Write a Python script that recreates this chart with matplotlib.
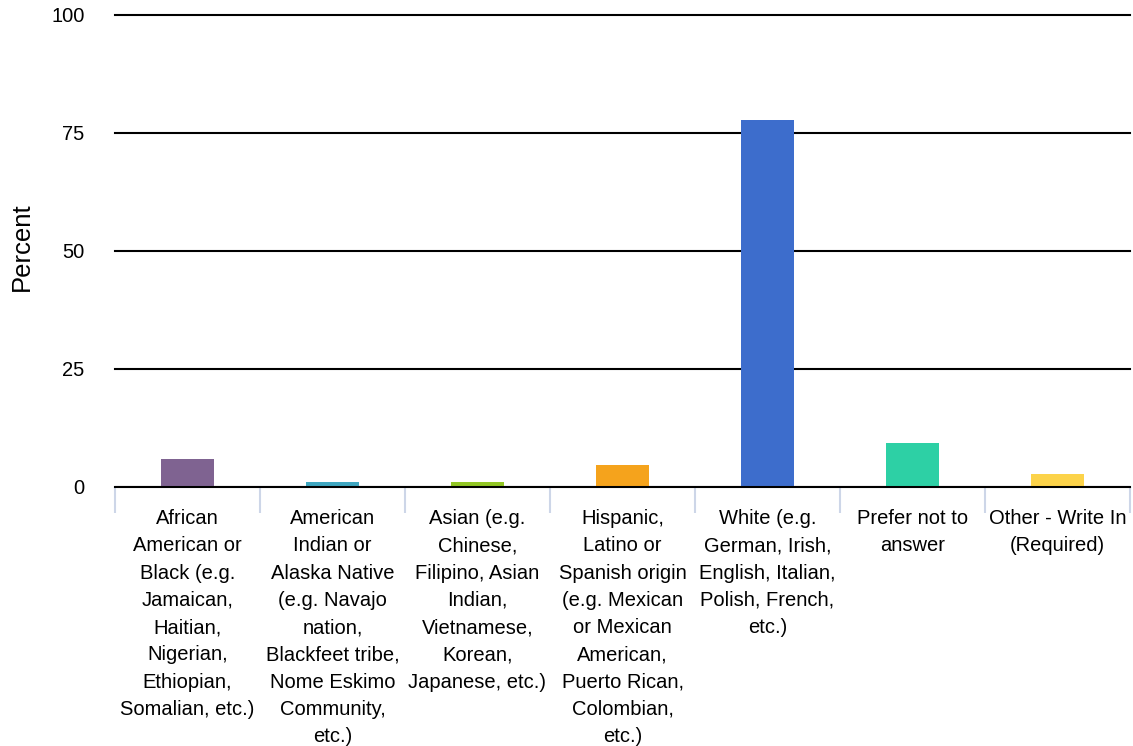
import matplotlib.pyplot as plt
import numpy as np

plt.rcParams['font.family'] = ['Liberation Sans', 'DejaVu Sans']

# categorias y valores (porcentaje)
categorias = [
    "African\nAmerican or\nBlack (e.g.\nJamaican,\nHaitian,\nNigerian,\nEthiopian,\nSomalian, etc.)",
    "American\nIndian or\nAlaska Native\n(e.g. Navajo\nnation,\nBlackfeet tribe,\nNome Eskimo\nCommunity,\netc.)",
    "Asian (e.g.\nChinese,\nFilipino, Asian\nIndian,\nVietnamese,\nKorean,\nJapanese, etc.)",
    "Hispanic,\nLatino or\nSpanish origin\n(e.g. Mexican\nor Mexican\nAmerican,\nPuerto Rican,\nColombian,\netc.)",
    "White (e.g.\nGerman, Irish,\nEnglish, Italian,\nPolish, French,\netc.)",
    "Prefer not to\nanswer",
    "Other - Write In\n(Required)",
]
porcentajes = [6.0, 1.1, 1.1, 4.7, 77.8, 9.3, 2.8]
colores = ['#7f6391', '#3ea6c0', '#92c624', '#f5a31c', '#3d6dcc', '#2dd0a5', '#fcd34a']
yticks = [0, 25, 50, 75, 100]

fig = plt.figure(figsize=(11.33, 7.46), dpi=100)
ax = fig.add_axes([115 / 1133, 259 / 746, 1015 / 1133, 472 / 746])

x = np.arange(len(categorias))
ax.bar(x, porcentajes, width=0.36, color=colores, zorder=3)

ax.set_xlim(-0.5, len(categorias) - 0.5)
ax.set_ylim(0, 100)
ax.set_yticks(yticks)
ax.yaxis.grid(True, color='black', linewidth=1.5, zorder=0)
for linea in ax.get_ygridlines():
    linea.set_clip_on(False)
ax.tick_params(axis='y', length=0, pad=22, labelsize=14.5)
ax.axhline(0, color='black', linewidth=2.2, zorder=4)

ax.set_xticks(x)
ax.set_xticklabels(categorias, fontsize=14.5, linespacing=1.55, va='top')
ax.set_xticks(np.arange(-0.5, len(categorias)), minor=True)
ax.tick_params(axis='x', which='major', length=0, pad=16)
ax.tick_params(axis='x', which='minor', length=19, width=1.5, color='#cdd6e8')

for s in ax.spines.values():
    s.set_visible(False)

ax.set_ylabel('Percent', fontsize=18.5)
ax.yaxis.set_label_coords(-0.080, 0.51)

plt.savefig('out.png', dpi=100)
